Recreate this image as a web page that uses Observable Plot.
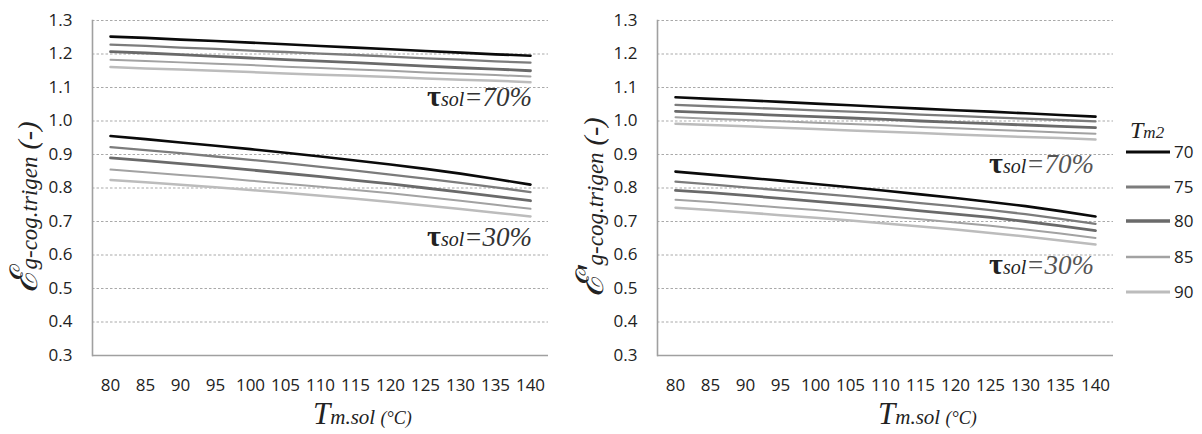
<!DOCTYPE html>
<html>
<head>
<meta charset="utf-8">
<script src="https://cdn.jsdelivr.net/npm/d3@7"></script>
<script src="https://cdn.jsdelivr.net/npm/@observablehq/plot@0.6"></script>
<style>
  html, body { margin: 0; padding: 0; background: #fff; }
  #wrap { position: relative; width: 1202px; height: 434px; overflow: hidden; background: #fff; }
  .panel { position: absolute; top: 0; }
  #overlay { position: absolute; left: 0; top: 0; pointer-events: none; }
</style>
</head>
<body>
<div id="wrap">
  <div id="left" class="panel" style="left:0px"></div>
  <div id="right" class="panel" style="left:565px"></div>
</div>
<script>
// ---------- data ----------
const temps = [80, 85, 90, 95, 100, 105, 110, 115, 120, 125, 130, 135, 140];
const tm2Levels = [70, 75, 80, 85, 90];
const yTicks = [0.3, 0.4, 0.5, 0.6, 0.7, 0.8, 0.9, 1.0, 1.1, 1.2, 1.3];

// left chart (ε g-cog.trigen), rows = Tm2 70,75,80,85,90
const leftTau70 = [
  [1.252,1.248,1.243,1.239,1.234,1.229,1.224,1.219,1.214,1.209,1.204,1.199,1.195],
  [1.228,1.224,1.219,1.215,1.210,1.206,1.201,1.197,1.192,1.187,1.183,1.178,1.174],
  [1.207,1.203,1.198,1.193,1.188,1.183,1.179,1.174,1.169,1.164,1.159,1.155,1.150],
  [1.183,1.179,1.175,1.171,1.167,1.162,1.158,1.154,1.150,1.145,1.141,1.137,1.133],
  [1.161,1.157,1.154,1.150,1.146,1.142,1.138,1.135,1.131,1.127,1.123,1.120,1.116]
];
const leftTau30 = [
  [0.955,0.946,0.936,0.926,0.916,0.905,0.894,0.882,0.870,0.857,0.843,0.827,0.810],
  [0.922,0.913,0.904,0.894,0.884,0.874,0.863,0.852,0.840,0.828,0.815,0.802,0.788],
  [0.890,0.882,0.873,0.864,0.854,0.844,0.834,0.823,0.812,0.800,0.788,0.775,0.762],
  [0.855,0.847,0.839,0.831,0.822,0.813,0.804,0.794,0.784,0.773,0.762,0.750,0.738],
  [0.824,0.817,0.810,0.802,0.794,0.786,0.777,0.768,0.758,0.748,0.737,0.726,0.715]
];
// right chart (ε' g-cog.trigen)
const rightTau70 = [
  [1.071,1.066,1.062,1.057,1.052,1.047,1.042,1.037,1.032,1.028,1.023,1.018,1.013],
  [1.048,1.044,1.040,1.036,1.032,1.028,1.024,1.019,1.015,1.011,1.007,1.003,0.999],
  [1.029,1.025,1.021,1.017,1.013,1.009,1.005,1.000,0.996,0.992,0.988,0.984,0.980],
  [1.011,1.007,1.003,0.999,0.995,0.991,0.987,0.982,0.978,0.974,0.970,0.966,0.962],
  [0.992,0.988,0.984,0.980,0.976,0.972,0.968,0.964,0.960,0.956,0.952,0.949,0.945]
];
const rightTau30 = [
  [0.849,0.840,0.831,0.822,0.812,0.802,0.792,0.781,0.770,0.758,0.746,0.731,0.715],
  [0.819,0.811,0.802,0.793,0.784,0.775,0.765,0.755,0.745,0.734,0.722,0.708,0.693],
  [0.793,0.786,0.778,0.769,0.760,0.751,0.742,0.732,0.722,0.712,0.700,0.687,0.673],
  [0.765,0.758,0.750,0.742,0.734,0.725,0.716,0.707,0.697,0.687,0.676,0.664,0.651],
  [0.741,0.734,0.727,0.719,0.711,0.703,0.694,0.685,0.676,0.666,0.655,0.643,0.631]
];

// ---------- styles ----------
const tm2Colors = ["#0a0a0a", "#7c7c7c", "#6a6a6a", "#a2a2a2", "#bcbcbc"];
const tm2Widths = [2.6, 2.3, 2.8, 2.0, 2.5];

function toRows(tau70, tau30) {
  const rows = [];
  [[70, tau70], [30, tau30]].forEach(([tau, table]) => {
    // draw lighter lines first so the darker ones stay on top
    for (let i = table.length - 1; i >= 0; i--) {
      table[i].forEach((v, j) => rows.push({T: temps[j], v, tm2: tm2Levels[i], tau, key: tau + "-" + tm2Levels[i], w: tm2Widths[i]}));
    }
  });
  return rows;
}

function chart(rows) {
  return Plot.plot({
    width: 600,
    height: 434,
    marginLeft: 92,
    marginRight: 52,
    marginTop: 20,
    marginBottom: 79,
    x: {type: "point", domain: temps, padding: 0.5},
    y: {domain: [0.3, 1.3]},
    color: {domain: tm2Levels, range: tm2Colors},
    style: {fontFamily: "'Open Sans', 'DejaVu Sans', sans-serif", fontSize: "17px", color: "#222", background: "transparent"},
    marks: [
      Plot.ruleY(yTicks.slice(1), {stroke: "#a9a9a9", strokeWidth: 1, strokeDasharray: "2.5,2"}),
      Plot.ruleY([0.3], {stroke: "#a0a0a0", strokeWidth: 1.6}),
      Plot.frame({anchor: "left", stroke: "#a0a0a0", strokeWidth: 1.6}),
      Plot.axisX({tickSize: 0, tickPadding: 23, label: null, fontSize: 17}),
      Plot.axisY({ticks: yTicks, tickSize: 0, tickPadding: 20, tickFormat: d3.format(".1f"), label: null, fontSize: 17}),
      Plot.line(rows, {x: "T", y: "v", z: "key", stroke: "tm2", strokeWidth: "w", curve: "linear"})
    ]
  });
}

document.getElementById("left").appendChild(chart(toRows(leftTau70, leftTau30)));
document.getElementById("right").appendChild(chart(toRows(rightTau70, rightTau30)));

// ---------- text overlay (titles, annotations, legend) ----------
const svg = d3.select("#wrap").append("svg")
  .attr("id", "overlay").attr("width", 1202).attr("height", 434);
const serif = "'Liberation Serif', 'DejaVu Serif', serif";

function yTitle(cx, cy, prime) {
  const t = svg.append("text")
    .attr("transform", `translate(${cx},${cy}) rotate(-90)`)
    .attr("text-anchor", "middle")
    .attr("font-family", serif).attr("font-style", "italic").attr("fill", "#222");
  t.append("tspan").attr("font-size", 38).text("ℰ" + (prime ? "'" : ""));
  t.append("tspan").attr("font-size", 23).text("g-cog.trigen");
  t.append("tspan").attr("font-size", 28).text(" (-)");
}
yTitle(37, 207, false);
yTitle(603, 207, true);

function xTitle(x, y) {
  const t = svg.append("text")
    .attr("x", x).attr("y", y)
    .attr("font-family", serif).attr("font-style", "italic").attr("fill", "#222");
  t.append("tspan").attr("font-size", 31).text("T");
  t.append("tspan").attr("font-size", 21).text("m.sol ");
  t.append("tspan").attr("font-size", 18).text("(°C)");
}
xTitle(313, 424);
xTitle(878, 424);

function tauLabel(xRight, y, pct, rest) {
  const t = svg.append("text")
    .attr("x", xRight).attr("y", y).attr("text-anchor", "end")
    .attr("font-family", serif).attr("fill", "#222");
  t.append("tspan").attr("font-size", 30).attr("font-weight", "bold").text("τ");
  t.append("tspan").attr("font-size", 20).attr("font-style", "italic").text("sol");
  t.append("tspan").attr("font-size", 27).attr("font-style", "italic").attr("fill", rest).text("=" + pct + "%");
}
tauLabel(532, 106, 70, "#333");
tauLabel(532, 246, 30, "#333");
tauLabel(1094, 173, 70, "#555");
tauLabel(1094, 274, 30, "#555");

// legend
const lg = svg.append("g");
const lt = lg.append("text").attr("x", 1130).attr("y", 138)
  .attr("font-family", serif).attr("font-style", "italic").attr("fill", "#222");
lt.append("tspan").attr("font-size", 24).text("T");
lt.append("tspan").attr("font-size", 17).text("m2");
const legendY = [152, 187, 221, 257, 292];
tm2Levels.forEach((lvl, i) => {
  lg.append("line").attr("x1", 1126).attr("x2", 1170)
    .attr("y1", legendY[i]).attr("y2", legendY[i])
    .attr("stroke", tm2Colors[i]).attr("stroke-width", tm2Widths[i] + 0.5);
  lg.append("text").attr("x", 1174).attr("y", legendY[i]).attr("dy", "0.35em")
    .attr("font-family", "'Open Sans', sans-serif").attr("font-size", 17).attr("fill", "#222")
    .text(lvl);
});
</script>
</body>
</html>
